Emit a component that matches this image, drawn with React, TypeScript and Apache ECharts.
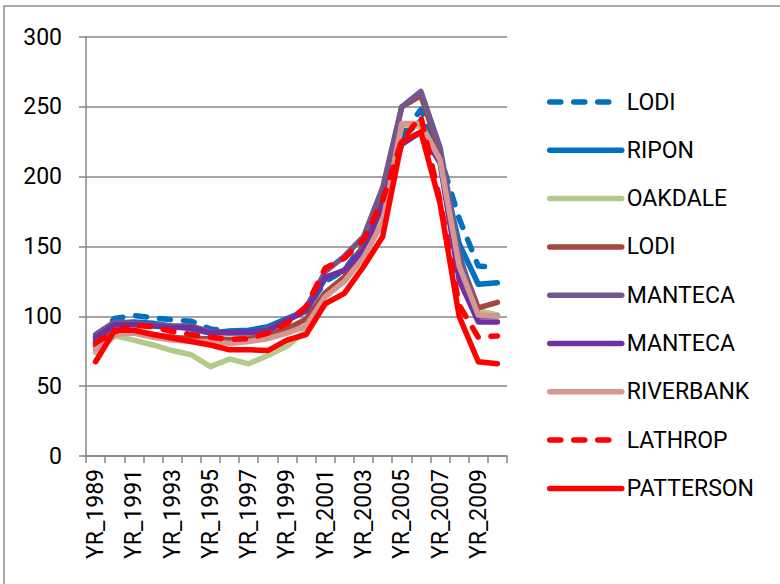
import React, { useEffect, useRef } from "react";
import * as echarts from "echarts";

const years = [
  "YR_1989", "YR_1990", "YR_1991", "YR_1992", "YR_1993", "YR_1994", "YR_1995", "YR_1996",
  "YR_1997", "YR_1998", "YR_1999", "YR_2000", "YR_2001", "YR_2002", "YR_2003", "YR_2004",
  "YR_2005", "YR_2006", "YR_2007", "YR_2008", "YR_2009", "YR_2010",
];

const lodiDashed = [85, 98.5, 100.5, 99, 97.5, 96.5, 91, 89, 88.5, 91, 97, 104, 125, 133, 152, 185, 230, 248, 215, 170, 136, 135];
const ripon = [83, 95, 96, 95, 93, 91, 88, 89.5, 90, 92.5, 98.5, 104, 127, 133, 150, 185, 228, 240, 212, 152, 123, 124];
const oakdale = [74, 86, 83, 79.5, 75.5, 72.5, 64, 69.5, 66, 72, 78.5, 90, 116, 128, 148, 170, 237, 236, 213, 138, 104, 101];
const lodiSolid = [79, 90, 89, 87, 85, 84, 84, 83.5, 84, 87, 91, 98, 117, 128, 150, 190, 250, 258, 217, 142, 106, 110];
const manteca1 = [87, 96, 95, 94, 93, 93, 89, 88, 88, 91, 97, 106, 132, 143, 157, 192, 250, 261, 221, 145, 100, 100];
const manteca2 = [85, 94, 94, 93, 92, 92, 88, 88.5, 88.5, 90, 97, 104, 128, 133, 147, 180, 223, 232, 210, 126, 96, 96];
const riverbank = [76, 87, 88, 85, 83, 82, 82, 80.5, 82, 84, 88, 93, 114, 125, 142, 167, 238, 238, 212, 136, 101, 100];
const lathrop = [81, 89, 93.5, 92.5, 89, 87, 85, 83.5, 84, 88, 95, 107, 134.5, 141.5, 155, 183, 226, 243, 183, 108, 85, 86];
const patterson = [67.5, 90, 90, 87, 84.5, 82, 79.5, 76, 76, 75.5, 83, 87, 109, 116.5, 135.5, 157, 225, 232, 181, 100, 67.5, 66];

const seriesNames = ["LODI", "RIPON", "OAKDALE", "LODI", "MANTECA", "MANTECA", "RIVERBANK", "LATHROP", "PATTERSON"];
const seriesData = [lodiDashed, ripon, oakdale, lodiSolid, manteca1, manteca2, riverbank, lathrop, patterson];
const seriesColors = ["#0070C0", "#0070C0", "#B3CA8C", "#A5473F", "#71588F", "#7030A0", "#D69692", "#FF0000", "#FF0000"];
const seriesDashed = [true, false, false, false, false, false, false, true, false];

const FONT = "Roboto";

export default function App() {
  const ref = useRef<HTMLDivElement>(null);
  useEffect(() => {
    if (!ref.current) return;
    const chart = echarts.init(ref.current, null, { renderer: "svg" });
    const series = seriesData.map((d, i) => ({
      name: seriesNames[i] + "\u200B".repeat(i),
      type: "line",
      data: d,
      symbol: "none",
      lineStyle: {
        color: seriesColors[i],
        width: 5.5,
        type: seriesDashed[i] ? [11, 13] : "solid",
        cap: "round",
        join: "round",
      },
      itemStyle: { color: seriesColors[i] },
      z: 2 + i,
    }));
    chart.setOption({
      animation: false,
      graphic: [
        {
          type: "rect",
          shape: { x: 4, y: 6, width: 800, height: 620 },
          style: { fill: "none", stroke: "#8c8c8c", lineWidth: 1.5 },
          silent: true,
        },
      ],
      grid: { left: 86, right: 273, top: 37, bottom: 128, containLabel: false },
      legend: {
        orient: "vertical",
        left: 547,
        top: 90,
        padding: 0,
        itemWidth: 72,
        itemHeight: 24,
        itemGap: 24.3,
        itemTextGap: 3,
        textStyle: {
          fontFamily: FONT,
          fontSize: 23,
          color: "#000",
          lineHeight: 24,
        },
        formatter: (n: string) => n.replace(/\u200B/g, ""),
        data: seriesData.map((_, i) => ({
          name: seriesNames[i] + "\u200B".repeat(i),
          itemStyle: { opacity: 0 },
          lineStyle: {
            color: seriesColors[i],
            width: 5.5,
            type: seriesDashed[i] ? [11, 13] : "solid",
            cap: "round",
          },
        })),
      },
      xAxis: {
        type: "category",
        data: years,
        boundaryGap: true,
        axisLine: { lineStyle: { color: "#868686", width: 1.5 } },
        axisTick: { show: true, length: 7, alignWithLabel: false, interval: 0, lineStyle: { color: "#868686", width: 1.5 } },
        axisLabel: {
          interval: 1,
          rotate: 90,
          margin: 13,
          fontFamily: FONT,
          fontSize: 23,
          color: "#000",
        },
        splitLine: { show: false },
      },
      yAxis: {
        type: "value",
        min: 0,
        max: 300,
        interval: 50,
        axisLine: { show: true, lineStyle: { color: "#868686", width: 1.5 } },
        axisTick: { show: true, length: 7, lineStyle: { color: "#868686", width: 1.5 } },
        axisLabel: { margin: 24, fontFamily: FONT, fontSize: 23, color: "#000" },
        splitLine: { lineStyle: { color: "#868686", width: 1.5 } },
      },
      series,
    });
    return () => chart.dispose();
  }, []);
  return <div ref={ref} style={{ width: 780, height: 584, position: "absolute", left: 0, top: 0 }} />;
}
